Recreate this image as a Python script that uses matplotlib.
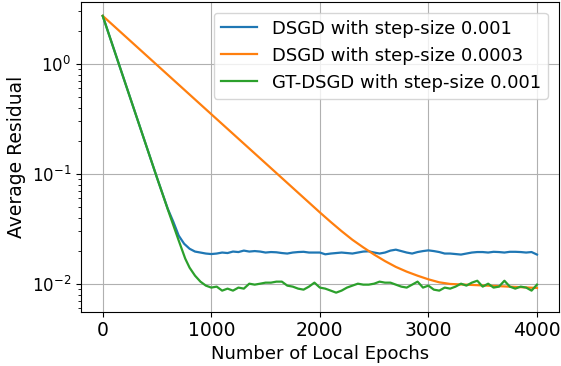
import matplotlib
matplotlib.use("Agg")
import matplotlib.pyplot as plt

# ---- data ----
blue_x = [0, 500, 600, 650, 700, 750, 800, 850, 900, 950, 1000, 1050, 1100, 1150, 1200,
          1250, 1300, 1350, 1400, 1450, 1500, 1550, 1600, 1650, 1700, 1750, 1800, 1850,
          1900, 1950, 2000, 2050, 2100, 2150, 2200, 2250, 2300, 2350, 2400, 2450, 2500,
          2550, 2600, 2650, 2700, 2750, 2800, 2850, 2900, 2950, 3000, 3050, 3100, 3150,
          3200, 3250, 3300, 3350, 3400, 3450, 3500, 3550, 3600, 3650, 3700, 3750, 3800,
          3850, 3900, 3950, 4000]
blue_y = [2.73, 0.0923, 0.048, 0.0368, 0.0275, 0.0232, 0.0209, 0.0197, 0.0193, 0.0189,
          0.0187, 0.0189, 0.0193, 0.0191, 0.0197, 0.0195, 0.0201, 0.0197, 0.0199, 0.0197,
          0.0193, 0.0195, 0.0194, 0.0191, 0.0189, 0.0193, 0.0195, 0.0196, 0.0193, 0.0193,
          0.0193, 0.0186, 0.0189, 0.0191, 0.0193, 0.0191, 0.0189, 0.0193, 0.0197, 0.0198,
          0.0193, 0.0189, 0.0193, 0.0201, 0.0205, 0.0199, 0.0193, 0.0189, 0.0195, 0.0199,
          0.0202, 0.0199, 0.0195, 0.0189, 0.0189, 0.0187, 0.0185, 0.0189, 0.0193, 0.0195,
          0.0195, 0.0193, 0.0196, 0.0195, 0.0193, 0.0196, 0.0196, 0.0195, 0.0193, 0.0195,
          0.0185]

orange_x = [0, 500, 1000, 1500, 2000, 2100, 2200, 2300, 2400, 2500, 2600, 2700, 2800,
            2900, 3000, 3100, 3200, 3300, 3400, 3500, 3600, 3700, 3800, 3900, 4000]
orange_y = [2.73, 0.976, 0.349, 0.125, 0.0447, 0.0366, 0.0302, 0.0252, 0.0215, 0.0185,
            0.01614, 0.01429, 0.01294, 0.01189, 0.01102, 0.01035, 0.0100, 0.0099,
            0.0098, 0.0097, 0.0096, 0.0095, 0.0094, 0.0093, 0.0092]

green_x = [0, 500, 600, 700, 760, 800, 850, 900, 950, 1000, 1050, 1100, 1150, 1200, 1250,
           1300, 1350, 1400, 1450, 1500, 1550, 1600, 1650, 1700, 1750, 1800, 1850, 1900,
           1950, 2000, 2050, 2100, 2150, 2200, 2250, 2300, 2350, 2400, 2450, 2500, 2550,
           2600, 2650, 2700, 2750, 2800, 2850, 2900, 2950, 3000, 3050, 3100, 3150, 3200,
           3250, 3300, 3350, 3400, 3450, 3500, 3550, 3600, 3650, 3700, 3750, 3800, 3850,
           3900, 3950, 4000]
green_y = [2.73, 0.0923, 0.0474, 0.0248, 0.0170, 0.01407, 0.0119, 0.0105, 0.00966,
           0.00927, 0.00946, 0.0087, 0.00907, 0.0087, 0.00927, 0.00907, 0.01006, 0.00986,
           0.01006, 0.01028, 0.01028, 0.0105, 0.0105, 0.00966, 0.00946, 0.00907, 0.00888,
           0.00946, 0.01028, 0.00927, 0.00907, 0.0087, 0.00834, 0.0087, 0.00927, 0.00966,
           0.01006, 0.00986, 0.00986, 0.01006, 0.0105, 0.01028, 0.01028, 0.00986, 0.00946,
           0.00927, 0.00986, 0.0105, 0.00927, 0.00966, 0.00888, 0.0087, 0.00927, 0.00907,
           0.00946, 0.01006, 0.00966, 0.01028, 0.0107, 0.00946, 0.01006, 0.00927, 0.00946,
           0.0107, 0.00946, 0.00907, 0.00946, 0.00927, 0.0087, 0.00986]

labels = ["DSGD with step-size 0.001", "DSGD with step-size 0.0003",
          "GT-DSGD with step-size 0.001"]
x_ticks = [0, 1000, 2000, 3000, 4000]

fig = plt.figure(figsize=(5.61, 3.66), dpi=100)
ax = fig.add_axes([81 / 561, 1 - 311.7 / 366, (558.7 - 81) / 561, (311.7 - 1.7) / 366])

ax.semilogy(blue_x, blue_y, color="#1f77b4", lw=1.6, label=labels[0])
ax.semilogy(orange_x, orange_y, color="#ff7f0e", lw=1.6, label=labels[1])
ax.semilogy(green_x, green_y, color="#2ca02c", lw=1.6, label=labels[2])

ax.set_xlim(-200, 4200)
ax.set_ylim(10 ** -2.252, 10 ** 0.565)
ax.set_xticks(x_ticks)
ax.grid(True, which="major", color="#b0b0b0", lw=0.8)
ax.tick_params(axis="x", labelsize=13.5)
ax.tick_params(axis="y", labelsize=12)
ax.set_xlabel("Number of Local Epochs", fontsize=13, labelpad=3)
ax.set_ylabel("Average Residual", fontsize=13.5, labelpad=4)
ax.legend(fontsize=13, loc="upper right", borderaxespad=0.6)

fig.savefig("out.png", dpi=100)
